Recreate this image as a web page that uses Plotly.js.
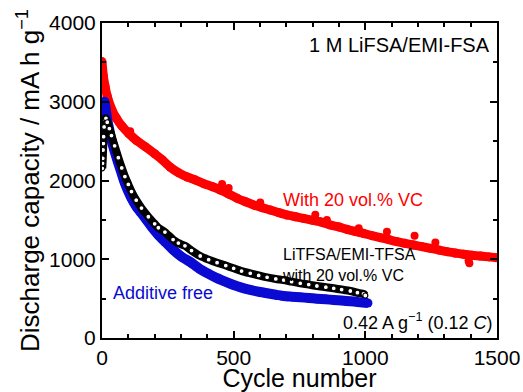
<!DOCTYPE html>
<html>
<head>
<meta charset="utf-8">
<script src="https://cdn.plot.ly/plotly-3.0.1.min.js"></script>
<style>
html,body{margin:0;padding:0;background:#fff;}
#chart{width:523px;height:392px;}
</style>
</head>
<body>
<div id="chart"></div>
<script>
// With 20 vol.% VC (1 M LiFSA/EMI-FSA)
const redCycles = [0,5,12,20,38,55,76,101,130,164,200,228,259,290,323,355,386,420,449,480,513,545,576,608,639,670,702,735,766,800,829,867,900,930,960,993,1025,1057,1090,1120,1150,1183,1215,1247,1280,1310,1340,1373,1405,1437,1470,1500];
const redCap = [3510,3330,3190,3070,2895,2790,2690,2600,2510,2430,2340,2265,2170,2100,2045,2005,1960,1920,1880,1830,1775,1730,1690,1655,1625,1593,1562,1540,1518,1495,1475,1435,1410,1380,1355,1329,1300,1274,1248,1223,1202,1181,1160,1139,1117,1096,1080,1063,1050,1041,1030,1020];
const redOutCycles = [107,456,481,601,810,854,975,1082,1187,1266,1392,1395];
const redOutCap = [2625,1955,1905,1720,1565,1500,1395,1350,1298,1212,982,950];

// Additive free
const blueCycles = [1,3,5,8,10,15,20,28,36,48,62,75,87,100,112,130,150,170,188,212,239,270,302,335,370,405,437,470,500,530,563,595,627,660,690,720,753,785,816,850,880,910,943,970,993,1010];
const blueCap = [2640,2760,2880,2980,3000,2880,2770,2640,2514,2370,2218,2085,1964,1860,1774,1670,1583,1495,1413,1315,1223,1120,1032,965,880,815,760,713,673,640,610,587,568,550,533,525,517,508,499,491,483,475,466,458,449,445];

// LiTFSA/EMI-TFSA with 20 vol.% VC
const blackCycles = [1,2,3,4,5,6,8,11,15,20,28,36,48,62,75,87,100,112,130,150,176,200,214,239,270,290,315,340,373,405,437,470,500,530,563,595,627,660,690,720,753,785,816,850,880,910,943,970,993,1000];
const blackCap = [2155,2218,2282,2387,2470,2556,2680,2780,2790,2740,2660,2570,2440,2290,2160,2050,1950,1860,1750,1650,1540,1450,1400,1345,1250,1205,1170,1110,1041,995,956,920,885,850,821,795,770,750,736,715,694,678,660,645,631,615,597,575,560,540];

const xTicks = [0,500,1000,1500];
const yTicks = [0,1000,2000,3000,4000];

const RED = '#ff0000', BLUE = '#0a0ad2', BLACK = '#000000';
const FONT = 'Arial, "Liberation Sans", Helvetica, sans-serif';

const traces = [
  {x: redCycles, y: redCap, mode: 'lines+markers', name: 'With 20 vol.% VC',
   line: {color: RED, width: 9, shape: 'spline', smoothing: 0.6}, marker: {color: RED, size: 9}, showlegend: false},
  {x: redOutCycles, y: redOutCap, mode: 'markers', name: 'With 20 vol.% VC',
   marker: {color: RED, size: 8}, showlegend: false},
  {x: blueCycles, y: blueCap, mode: 'lines+markers', name: 'Additive free',
   line: {color: BLUE, width: 10, shape: 'spline', smoothing: 0.6}, marker: {color: BLUE, size: 9}, showlegend: false},
  {x: blackCycles, y: blackCap, mode: 'lines+markers', name: 'LiTFSA/EMI-TFSA with 20 vol.% VC',
   line: {color: BLACK, width: 8, shape: 'spline', smoothing: 0.6},
   marker: {symbol: 'circle', color: '#ffffff', size: 5, line: {color: BLACK, width: 1.2}},
   showlegend: false}
];

const axisCommon = {
  showgrid: false, zeroline: false, showline: true, linecolor: '#000', linewidth: 2,
  mirror: 'ticks', ticks: 'inside', ticklen: 7, tickwidth: 2, tickcolor: '#000',
  tickfont: {family: FONT, size: 21, color: '#000'}
};

const layout = {
  width: 523, height: 392,
  margin: {l: 102, r: 26, t: 23, b: 54, pad: 0},
  paper_bgcolor: '#fff', plot_bgcolor: '#fff',
  showlegend: false,
  xaxis: Object.assign({}, axisCommon, {
    range: [0, 1500], tickvals: xTicks, ticktext: xTicks.map(String),
    minor: {dtick: 100, tick0: 0, ticks: 'inside', ticklen: 4, tickwidth: 2, tickcolor: '#000'},
    title: {text: 'Cycle number', font: {family: FONT, size: 25, color: '#000'}, standoff: 1}
  }),
  yaxis: Object.assign({}, axisCommon, {
    range: [0, 4000], tickvals: yTicks, ticktext: yTicks.map(String),
    minor: {dtick: 500, tick0: 0, ticks: 'inside', ticklen: 4, tickwidth: 2, tickcolor: '#000'},
    title: {text: 'Discharge capacity / mA h g<sup>−1</sup>', font: {family: FONT, size: 26, color: '#000'}, standoff: 2}
  }),
  annotations: [
    {xref: 'paper', yref: 'paper', x: 0.988, y: 0.930, xanchor: 'right', yanchor: 'middle',
     text: '1 M LiFSA/EMI-FSA', showarrow: false, font: {family: FONT, size: 20, color: '#000'}},
    {xref: 'paper', yref: 'paper', x: 0.453, y: 0.438, xanchor: 'left', yanchor: 'middle',
     text: 'With 20 vol.% VC', showarrow: false, font: {family: FONT, size: 18, color: RED}},
    {xref: 'paper', yref: 'paper', x: 0.450, y: 0.233, xanchor: 'left', yanchor: 'middle', align: 'left',
     text: 'LiTFSA/EMI-TFSA<br>with 20 vol.% VC', showarrow: false, font: {family: FONT, size: 16, color: '#000'}},
    {xref: 'paper', yref: 'paper', x: 0.022, y: 0.142, xanchor: 'left', yanchor: 'middle',
     text: 'Additive free', showarrow: false, font: {family: FONT, size: 18, color: BLUE}},
    {xref: 'paper', yref: 'paper', x: 0.992, y: 0.051, xanchor: 'right', yanchor: 'middle',
     text: '0.42 A g<sup>−1</sup> (0.12 <i>C</i>)', showarrow: false, font: {family: FONT, size: 18, color: '#000'}}
  ]
};

Plotly.newPlot('chart', traces, layout, {displayModeBar: false, staticPlot: true});
</script>
</body>
</html>
